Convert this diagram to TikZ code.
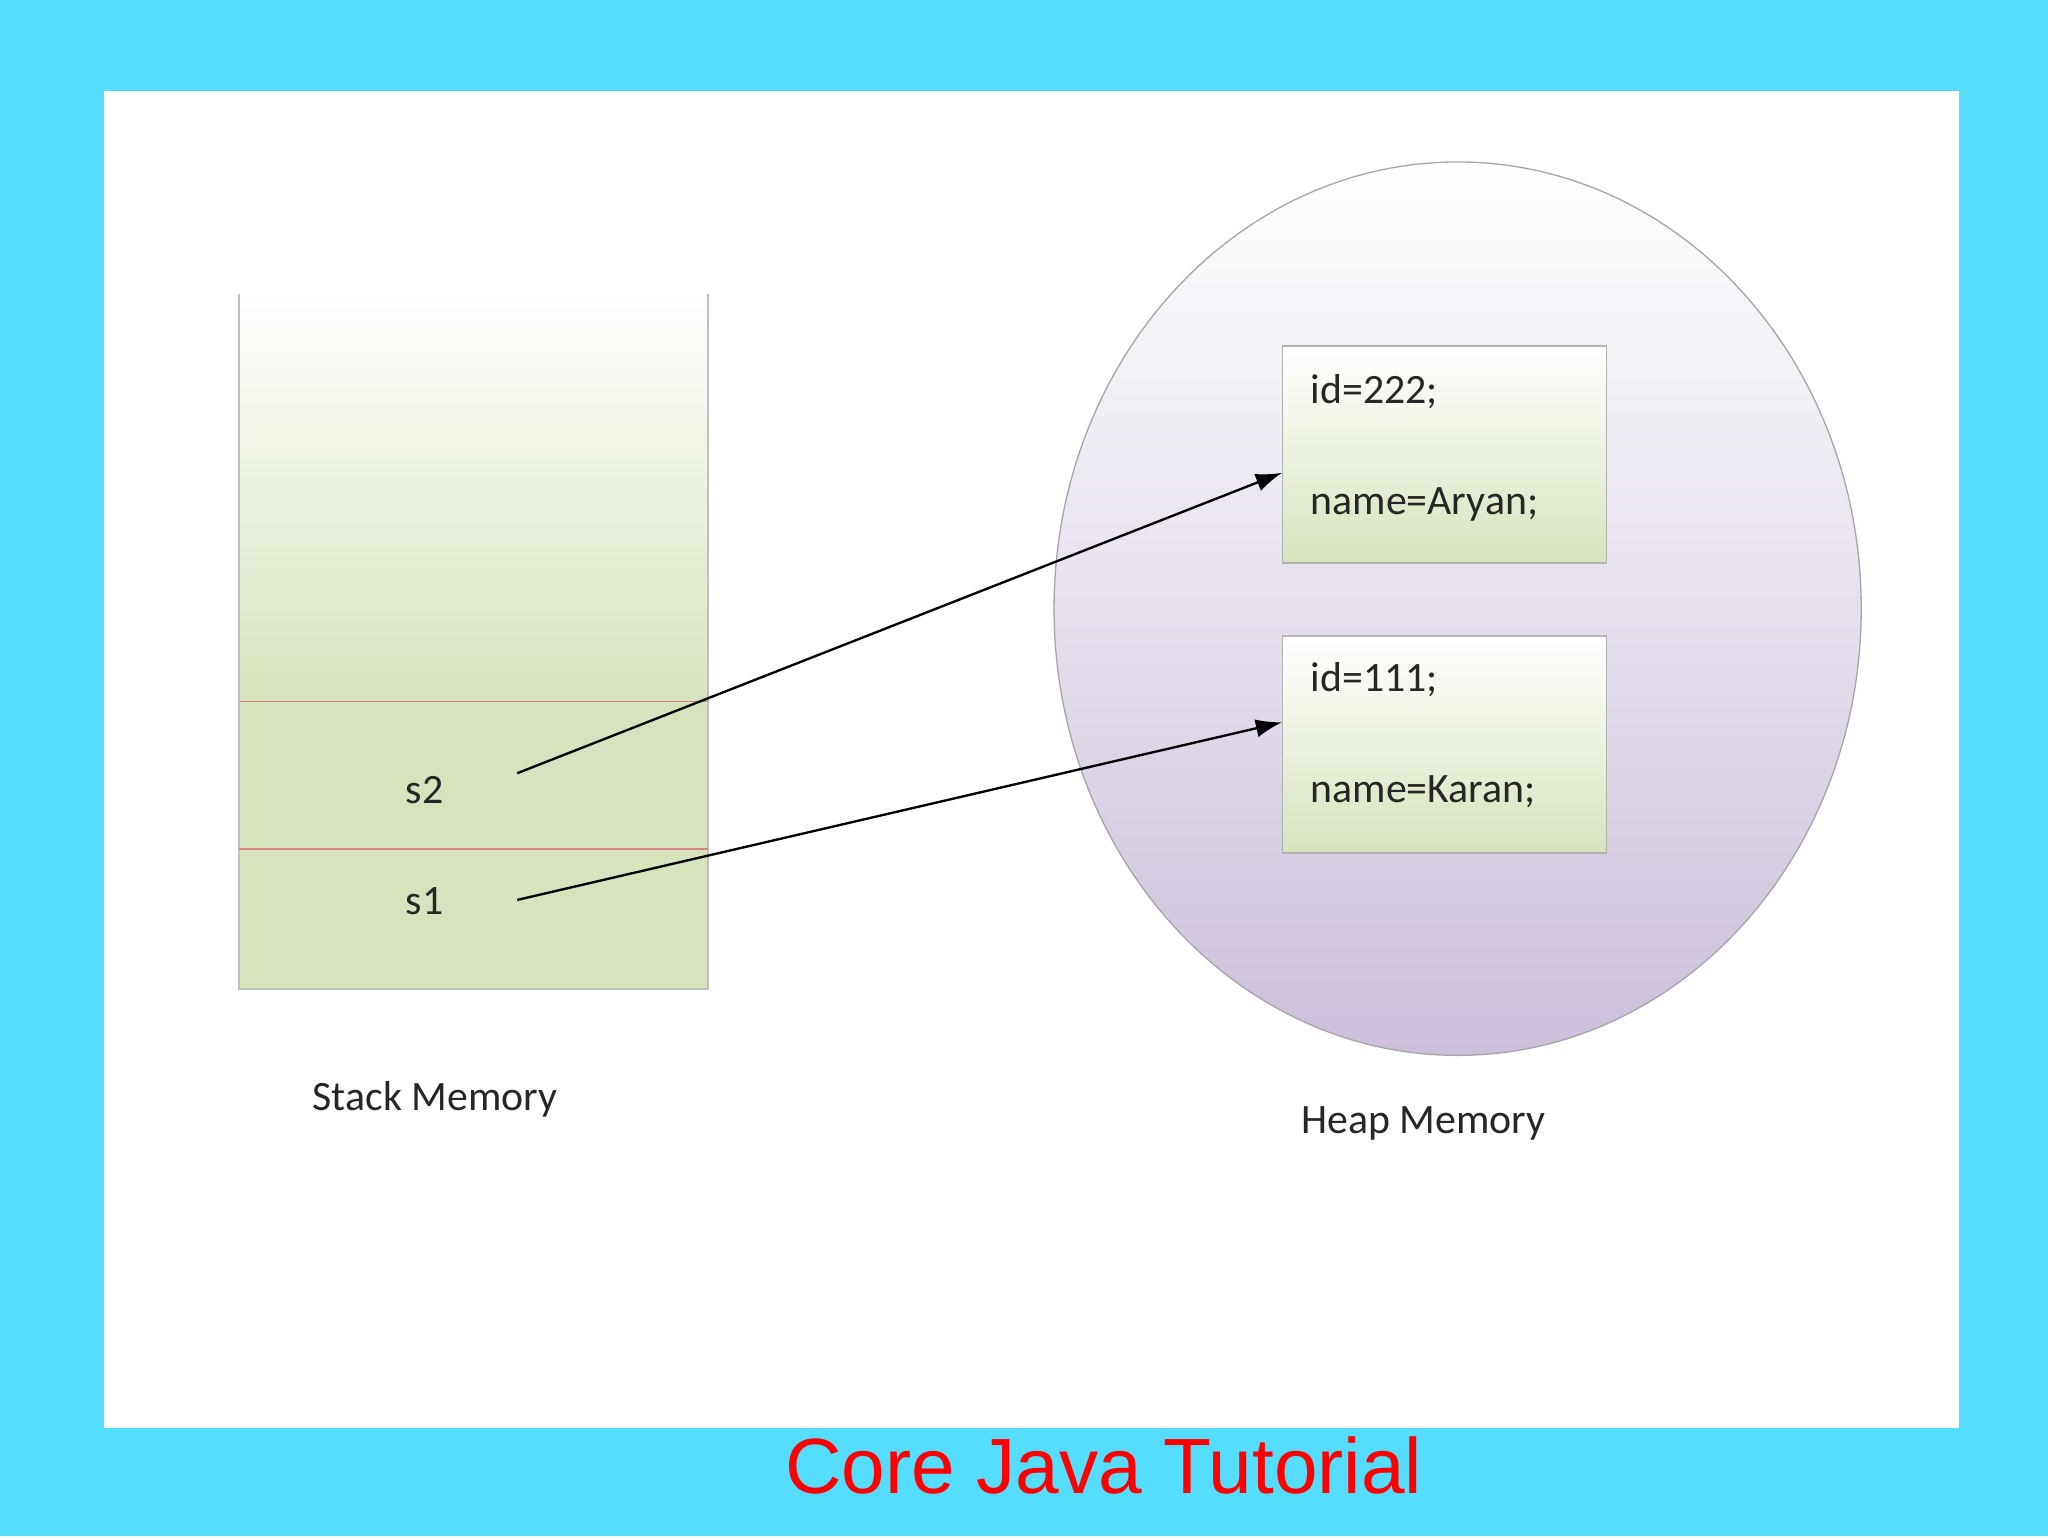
\documentclass[tikz,border=0pt]{standalone}
\usepackage{fontspec}
\setmainfont{Carlito}
\newfontfamily\arialf{Liberation Sans}
\usetikzlibrary{arrows.meta}
\definecolor{bgc}{HTML}{55DDFF}
\definecolor{lgreen}{HTML}{D6E3BC}
\definecolor{lav}{HTML}{CCC0DA}
\definecolor{redl}{HTML}{C0504D}
\tikzset{
 objbox/.style={draw=gray!60,line width=1pt,top color=white,bottom color=lgreen,minimum width=248pt,minimum height=166pt},
 lbl/.style={font=\fontsize{32}{38}\selectfont,text=black!85},
 ptr/.style={-{Latex[length=20pt,width=14pt]},line width=1.8pt}
}
\begin{document}
\begin{tikzpicture}[x=1pt,y=-1pt]
\useasboundingbox (0,0) rectangle (1568,1176);
\fill[bgc] (0,0) rectangle (1568,1176);
\fill[white] (80,70) rectangle (1500,1093);
% stack
\shade[top color=white,bottom color=lgreen] (183,225) rectangle (542,537);
\fill[lgreen] (183,537) rectangle (542,757);
\draw[gray!50,line width=1.5pt] (183,225) -- (183,757) -- (542,757) -- (542,225);
\draw[redl!70,line width=1pt] (183,537) -- (542,537) (183,650) -- (542,650);
\node[lbl] (s2) at (325,605) {s2};
\node[lbl] (s1) at (325,690) {s1};
\coordinate (s2o) at (396,592);
\coordinate (s1o) at (396,689);
\node[lbl] (stk) at (333,842) {Stack Memory};
% heap
\shade[top color=white,bottom color=lav,draw=gray!70,line width=1pt] (1116,466) ellipse [x radius=309,y radius=342];
\node[objbox] (b1) at (1106,348) {};
\node[objbox] (b2) at (1106,570) {};
\node[lbl,anchor=west] (t1) at (1000,300) {id=222;};
\node[lbl,anchor=west] (t2) at (1000,386) {name=Aryan;};
\node[lbl,anchor=west] (t3) at (1000,520) {id=111;};
\node[lbl,anchor=west] (t4) at (1000,606) {name=Karan;};
\node[lbl] (hp) at (1090,860) {Heap Memory};
\draw[ptr] (s2o) -- ([yshift=-14pt]b1.west);
\draw[ptr] (s1o) -- ([yshift=17pt]b2.west);
\node[font=\arialf\fontsize{60}{66}\selectfont,text=red] (title) at (845,1122) {Core Java Tutorial};
\end{tikzpicture}
\end{document}
